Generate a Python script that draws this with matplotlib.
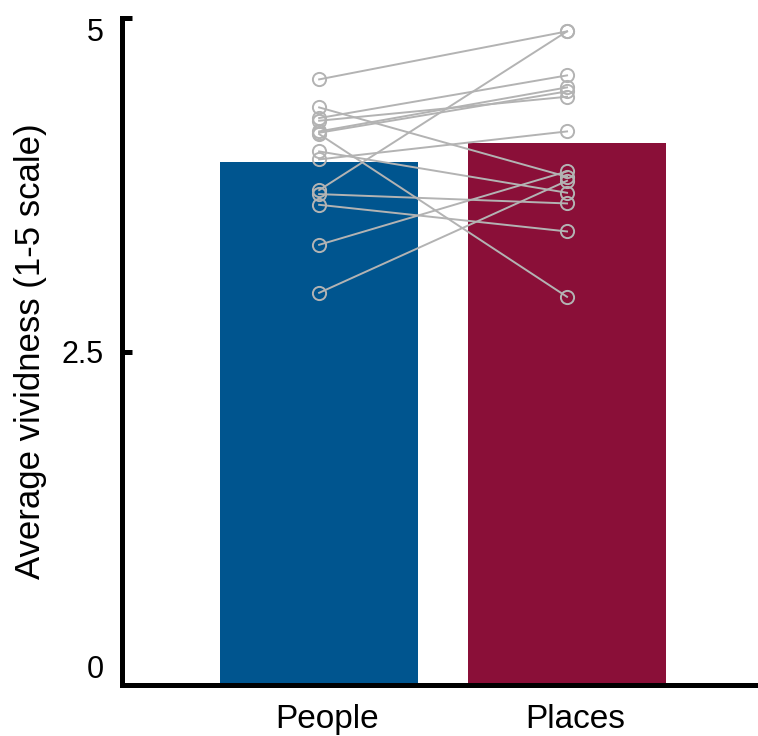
import matplotlib
matplotlib.use("Agg")
import matplotlib.pyplot as plt
import numpy as np

plt.rcParams['font.family'] = ['Liberation Sans', 'DejaVu Sans']

# average vividness ratings per participant (1-5 scale)
conditions = ["People", "Places"]
people = [4.54, 4.33, 4.25, 4.23, 4.15, 4.14, 4.13, 4.00, 3.94, 3.71, 3.68, 3.60, 3.30, 2.94]
places = [4.90, 3.81, 4.57, 4.41, 4.48, 4.45, 2.91, 3.69, 4.15, 4.90, 3.61, 3.40, 3.85, 3.78]
bar_colors = ["#00558f", "#8a0f38"]
yticks = [0, 2.5, 5]
yticklabels = ["0", "2.5", "5"]

fig = plt.figure(figsize=(7.58, 7.36), dpi=100)
ax = fig.add_axes([0.161, 0.0693, 0.835, 0.9062])

xpos = np.array([1, 2])
means = [np.mean(people), np.mean(places)]
ax.bar(xpos, means, width=0.8, color=bar_colors, zorder=1)

# one line per participant linking the two conditions
for p, q in zip(people, places):
    ax.plot(xpos, [p, q], color="#b3b3b3", lw=1.4, marker="o", ms=9.5,
            mfc="none", mec="#b3b3b3", mew=1.4, zorder=3)

ax.set_xlim(0.205, 2.758)
ax.set_ylim(0, 5)
ax.set_xticks(xpos)
ax.set_xticklabels([])
# category names, nudged a little right of the bar centres
for x, name in zip(xpos, conditions):
    ax.annotate(name, xy=(x, 0), xycoords=("data", "axes fraction"),
                xytext=(6, -25), textcoords="offset points",
                ha="center", va="center", fontsize=24, annotation_clip=False)
ax.set_yticks(yticks)
ax.set_yticklabels(yticklabels, fontsize=22)
# keep end labels inside the axis span
ylabs = ax.get_yticklabels()
ylabs[0].set_va("bottom")
ylabs[-1].set_va("top")
ax.set_ylabel("Average vividness (1-5 scale)", fontsize=25, labelpad=11)

ax.spines["top"].set_visible(False)
ax.spines["right"].set_visible(False)
for s in ["left", "bottom"]:
    ax.spines[s].set_linewidth(3.6)
ax.tick_params(axis="y", direction="in", length=7, width=3.6, pad=13)
ax.tick_params(axis="x", length=0)

fig.savefig("out.png", dpi=100)
